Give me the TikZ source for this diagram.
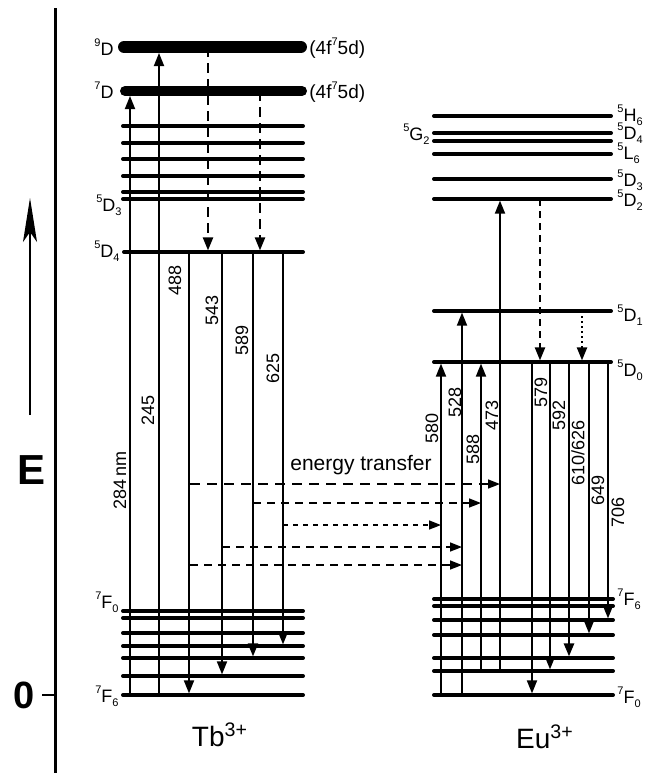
\documentclass[tikz,border=0pt]{standalone}
\usepackage{fontspec}
\setmainfont{Liberation Sans}
\usetikzlibrary{arrows.meta}
\newcommand{\sups}[1]{\raisebox{0.85ex}{\fontsize{5.5}{5.5}\selectfont #1}}
\newcommand{\lvl}[3]{\sups{#1}#2\raisebox{-0.45ex}{\fontsize{5.5}{5.5}\selectfont #3}}
\tikzset{
	lev/.style   ={line width=2pt, line cap=round},
	band/.style  ={line width=6pt, line cap=round},
	trans/.style ={line width=0.9pt, -{Triangle[length=6.5pt,width=5pt]}, shorten >=0.8pt},
	decay/.style ={line width=1.1pt, dash pattern=on 5pt off 3pt, -{Triangle[length=6.5pt,width=5pt]}, shorten >=0.8pt},
	etr/.style   ={line width=0.8pt, -{Triangle[length=6pt,width=4.5pt]}},
	wl/.style    ={rotate=90, font=\fontsize{9}{9}\selectfont, inner sep=0pt},
	term/.style  ={font=\fontsize{9}{10}\selectfont, inner sep=0pt},
}
\begin{document}
\begin{tikzpicture}[x=0.5pt, y=-0.5pt]
\useasboundingbox (0,0) rectangle (645,773);
% energy axis
\draw[line width=1.5pt] (55,8) -- (55,773);
\draw[line width=1pt] (42,695) -- (55,695);
\node[font=\bfseries\fontsize{19}{19}\selectfont] (zero) at (24,695) {0};
\node[font=\bfseries\fontsize{21}{21}\selectfont] (E) at (32,470) {E};
\draw[line width=1pt, -{Stealth[length=22pt,width=7pt,inset=5pt]}] (30,415) coordinate (ebot) -- (30,198);

% Tb levels
\draw[band] (124,47) -- (301,47); \coordinate (tbD9) at (0,47);
\draw[band, line width=5pt] (125,91) -- (302,91); \coordinate (tbD7) at (0,91);
\foreach \y in {126,143,159,176,192,199} \draw[lev] (123,\y) -- (303,\y);
\draw[lev] (124,252) -- (303,252); \coordinate (tbD4) at (0,252);
\foreach \n/\y in {F0/611,F1/618,F2/633,F3/646,F4/658,F5/676,F6/695}{
	\draw[lev] (123,\y) -- (303,\y);
	\coordinate (tb\n) at (0,\y);
}

% Eu levels
\foreach \n/\y in {H6/116,D4/133,G2/141,L6/154,D3/179,D2/199,D1/311,D0/362}{
	\draw[lev] (434,\y) -- (611,\y);
	\coordinate (eu\n) at (0,\y);
}
\foreach \n/\y in {F6/599,F5/606,F4/620,F3/635,F2/658,F1/671,F0/695}{
	\draw[lev] (434,\y) -- (613,\y);
	\coordinate (eu\n) at (0,\y);
}

% Tb transitions
\draw[trans, shorten >=2.5pt] (130,0 |- tbF6) -- (130,0 |- tbD7);
\draw[trans, shorten >=3pt] (159,0 |- tbF6) -- (159,0 |- tbD9);
\foreach \x/\m in {189/F6,222/F5,253/F4,283/F3}
	\draw[trans] (\x,0 |- tbD4) -- (\x,0 |- tb\m);
\draw[decay] (208,0 |- tbD9) -- (208,0 |- tbD4);
\draw[decay] (260,0 |- tbD7) -- (260,0 |- tbD4);

% Eu transitions
\draw[trans] (441,0 |- euF0) -- (441,0 |- euD0);
\draw[trans] (462,0 |- euF0) -- (462,0 |- euD1);
\draw[trans] (481,0 |- euF1) -- (481,0 |- euD0);
\draw[trans] (500,0 |- euF1) -- (500,0 |- euD2);
\foreach \x/\m in {532/F0,550/F1,589/F3,608/F4}
	\draw[trans] (\x,0 |- euD0) -- (\x,0 |- eu\m);
\draw[trans, line width=1.3pt] (569,0 |- euD0) -- (569,0 |- euF2);
\draw[decay, dash pattern=on 3.5pt off 2.5pt] (540,0 |- euD2) -- (540,0 |- euD0);
\draw[decay, dash pattern=on 1pt off 1.5pt] (582,0 |- euD1) -- (582,0 |- euD0);

% energy transfer
\node[font=\fontsize{10.5}{11}\selectfont] (et) at (361,465) {energy transfer};
\draw[etr, dash pattern=on 5pt off 3.5pt] (190,484) -- (500,484);
\draw[etr, dash pattern=on 4pt off 3pt] (253,503) -- (481,503);
\draw[etr, dash pattern=on 2.5pt off 2.5pt] (283,525) -- (441,525);
\draw[etr, dash pattern=on 4pt off 3pt] (222,547) -- (462,547);
\draw[etr, dash pattern=on 4pt off 3pt] (190,565) -- (462,565);

% wavelengths
\node[wl] (w284) at (120,480) {284\,nm};
\node[wl] (w245) at (148,410) {245};
\node[wl] (w488) at (175,280) {488};
\node[wl] (w543) at (212,310) {543};
\node[wl] (w589) at (242,340) {589};
\node[wl] (w625) at (273,368) {625};
\node[wl] (w580) at (432,428) {580};
\node[wl] (w528) at (455,402) {528};
\node[wl] (w588) at (473,449) {588};
\node[wl] (w473) at (492,415) {473};
\node[wl] (w579) at (541,392) {579};
\node[wl] (w592) at (559,415) {592};
\node[wl] (w610) at (578,453) {610/626};
\node[wl] (w649) at (598,490) {649};
\node[wl] (w706) at (618,512) {706};

% Tb terms
\node[term, anchor=base east] (tD9) at (114,55) {\sups{9}D};
\node[term, anchor=base east] (tD7) at (114,98) {\sups{7}D};
\node[term, anchor=base east] (tD3) at (122,211) {\lvl{5}{D}{3}};
\node[term, anchor=base east] (tD4) at (120,257) {\lvl{5}{D}{4}};
\node[term, anchor=base east] (tF0) at (119,608) {\lvl{7}{F}{0}};
\node[term, anchor=base east] (tF6) at (119,702) {\lvl{7}{F}{6}};
\node[term, anchor=base west, font=\fontsize{9.5}{10}\selectfont] (tX9) at (309,54) {(4f\sups{7}5d)};
\node[term, anchor=base west, font=\fontsize{9.5}{10}\selectfont] (tX7) at (309,98) {(4f\sups{7}5d)};

% Eu terms
\node[term, anchor=base west] (eH6) at (617,121) {\lvl{5}{H}{6}};
\node[term, anchor=base west] (eD4) at (617,139) {\lvl{5}{D}{4}};
\node[term, anchor=base east] (eG2) at (430,140) {\lvl{5}{G}{2}};
\node[term, anchor=base west] (eL6) at (617,159) {\lvl{5}{L}{6}};
\node[term, anchor=base west] (eD3) at (617,186) {\lvl{5}{D}{3}};
\node[term, anchor=base west] (eD2) at (617,206) {\lvl{5}{D}{2}};
\node[term, anchor=base west] (eD1) at (617,321) {\lvl{5}{D}{1}};
\node[term, anchor=base west] (eD0) at (617,376) {\lvl{5}{D}{0}};
\node[term, anchor=base west] (eF6) at (617,605) {\lvl{7}{F}{6}};
\node[term, anchor=base west] (eF0) at (617,703) {\lvl{7}{F}{0}};

% ions
\node[font=\fontsize{14}{14}\selectfont] (tb) at (220,735) {Tb\textsuperscript{3+}};
\node[font=\fontsize{14}{14}\selectfont] (eu) at (545,737) {Eu\textsuperscript{3+}};
\end{tikzpicture}
\end{document}
